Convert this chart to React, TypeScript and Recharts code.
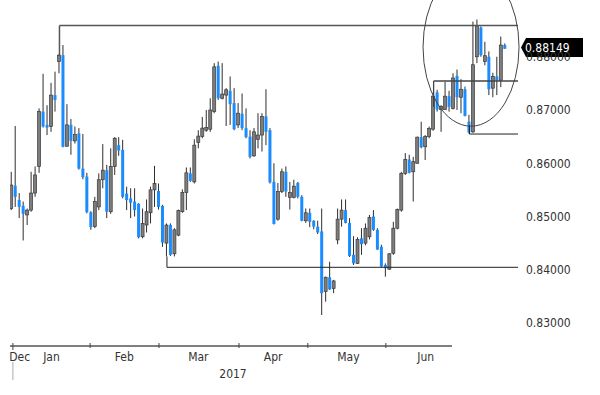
import React from 'react';
import { ComposedChart, Bar, XAxis, YAxis, ReferenceLine, ReferenceDot } from 'recharts';

// daily candles, Dec 2016 - Jun 2017
const opens = [
  0.8515, 0.8558, 0.8531, 0.8520, 0.8503, 0.8512, 0.8544, 0.8594, 0.8697, 0.8672,
  0.8669, 0.8728, 0.8791, 0.8803, 0.8632, 0.8672, 0.8642, 0.8656, 0.8590, 0.8575,
  0.8508, 0.8481, 0.8518, 0.8569, 0.8587, 0.8509, 0.8594, 0.8634, 0.8625, 0.8543,
  0.8534, 0.8528, 0.8524, 0.8462, 0.8484, 0.8507, 0.8550, 0.8548, 0.8520, 0.8450,
  0.8484, 0.8430, 0.8465, 0.8509, 0.8545, 0.8581, 0.8565, 0.8639, 0.8650, 0.8662,
  0.8664, 0.8697, 0.8783, 0.8722, 0.8728, 0.8736, 0.8713, 0.8672, 0.8693, 0.8666,
  0.8650, 0.8614, 0.8645, 0.8653, 0.8688, 0.8662, 0.8565, 0.8495, 0.8547, 0.8584,
  0.8536, 0.8536, 0.8563, 0.8537, 0.8492, 0.8507, 0.8492, 0.8481, 0.8472, 0.8359,
  0.8386, 0.8365, 0.8456, 0.8495, 0.8512, 0.8488, 0.8428, 0.8412, 0.8459, 0.8450,
  0.8462, 0.8500, 0.8475, 0.8443, 0.8409, 0.8401, 0.8431, 0.8478, 0.8512, 0.8581,
  0.8607, 0.8584, 0.8600, 0.8649, 0.8631, 0.8650, 0.8664, 0.8733, 0.8701, 0.8701,
  0.8726, 0.8703, 0.8764, 0.8724, 0.8739, 0.8678, 0.8659, 0.8800, 0.8855, 0.8791,
  0.8800, 0.8741, 0.8763, 0.8756, 0.8822,
];
const highs = [
  0.8584, 0.8670, 0.8544, 0.8528, 0.8515, 0.8584, 0.8594, 0.8703, 0.8768, 0.8709,
  0.8751, 0.8772, 0.8805, 0.8822, 0.8711, 0.8683, 0.8669, 0.8666, 0.8655, 0.8582,
  0.8510, 0.8537, 0.8581, 0.8636, 0.8597, 0.8628, 0.8649, 0.8649, 0.8644, 0.8556,
  0.8553, 0.8553, 0.8525, 0.8515, 0.8532, 0.8556, 0.8595, 0.8562, 0.8522, 0.8487,
  0.8487, 0.8478, 0.8513, 0.8551, 0.8592, 0.8592, 0.8645, 0.8662, 0.8687, 0.8700,
  0.8722, 0.8788, 0.8791, 0.8788, 0.8741, 0.8763, 0.8741, 0.8713, 0.8731, 0.8703,
  0.8662, 0.8666, 0.8694, 0.8694, 0.8739, 0.8666, 0.8600, 0.8563, 0.8590, 0.8594,
  0.8565, 0.8569, 0.8565, 0.8540, 0.8515, 0.8515, 0.8493, 0.8492, 0.8515, 0.8387,
  0.8415, 0.8381, 0.8515, 0.8532, 0.8532, 0.8497, 0.8463, 0.8461, 0.8478, 0.8487,
  0.8503, 0.8512, 0.8478, 0.8447, 0.8412, 0.8431, 0.8490, 0.8515, 0.8584, 0.8619,
  0.8616, 0.8612, 0.8650, 0.8678, 0.8653, 0.8669, 0.8733, 0.8738, 0.8709, 0.8753,
  0.8736, 0.8769, 0.8776, 0.8758, 0.8744, 0.8691, 0.8866, 0.8870, 0.8857, 0.8828,
  0.8810, 0.8770, 0.8800, 0.8838, 0.8825,
];
const lows = [
  0.8512, 0.8518, 0.8497, 0.8455, 0.8484, 0.8509, 0.8537, 0.8582, 0.8667, 0.8653,
  0.8659, 0.8697, 0.8769, 0.8630, 0.8631, 0.8616, 0.8637, 0.8588, 0.8570, 0.8506,
  0.8475, 0.8478, 0.8512, 0.8553, 0.8497, 0.8505, 0.8578, 0.8614, 0.8534, 0.8512,
  0.8497, 0.8500, 0.8459, 0.8459, 0.8470, 0.8487, 0.8518, 0.8513, 0.8443, 0.8425,
  0.8426, 0.8425, 0.8463, 0.8507, 0.8512, 0.8565, 0.8562, 0.8628, 0.8647, 0.8659,
  0.8659, 0.8694, 0.8719, 0.8720, 0.8670, 0.8672, 0.8662, 0.8666, 0.8662, 0.8647,
  0.8609, 0.8612, 0.8628, 0.8622, 0.8634, 0.8562, 0.8485, 0.8492, 0.8544, 0.8537,
  0.8513, 0.8534, 0.8534, 0.8491, 0.8488, 0.8480, 0.8476, 0.8467, 0.8315, 0.8340,
  0.8362, 0.8356, 0.8448, 0.8481, 0.8487, 0.8424, 0.8409, 0.8411, 0.8428, 0.8446,
  0.8457, 0.8473, 0.8437, 0.8405, 0.8387, 0.8400, 0.8428, 0.8476, 0.8509, 0.8578,
  0.8581, 0.8528, 0.8599, 0.8628, 0.8606, 0.8647, 0.8661, 0.8697, 0.8659, 0.8700,
  0.8697, 0.8701, 0.8700, 0.8694, 0.8688, 0.8656, 0.8657, 0.8788, 0.8800, 0.8784,
  0.8728, 0.8724, 0.8728, 0.8743, 0.8815,
];
const closes = [
  0.8559, 0.8537, 0.8518, 0.8505, 0.8512, 0.8544, 0.8578, 0.8697, 0.8669, 0.8667,
  0.8728, 0.8719, 0.8803, 0.8631, 0.8672, 0.8642, 0.8654, 0.8590, 0.8574, 0.8508,
  0.8480, 0.8528, 0.8569, 0.8587, 0.8509, 0.8594, 0.8647, 0.8624, 0.8537, 0.8531,
  0.8526, 0.8512, 0.8461, 0.8487, 0.8509, 0.8550, 0.8562, 0.8518, 0.8451, 0.8484,
  0.8428, 0.8475, 0.8511, 0.8545, 0.8582, 0.8567, 0.8634, 0.8651, 0.8666, 0.8667,
  0.8700, 0.8781, 0.8722, 0.8730, 0.8738, 0.8711, 0.8664, 0.8694, 0.8666, 0.8649,
  0.8612, 0.8659, 0.8653, 0.8688, 0.8659, 0.8564, 0.8486, 0.8547, 0.8584, 0.8547,
  0.8545, 0.8557, 0.8537, 0.8492, 0.8507, 0.8490, 0.8481, 0.8470, 0.8356, 0.8386,
  0.8363, 0.8379, 0.8495, 0.8512, 0.8488, 0.8426, 0.8412, 0.8457, 0.8448, 0.8478,
  0.8498, 0.8475, 0.8438, 0.8406, 0.8403, 0.8430, 0.8478, 0.8513, 0.8581, 0.8607,
  0.8582, 0.8603, 0.8649, 0.8630, 0.8650, 0.8665, 0.8726, 0.8701, 0.8707, 0.8726,
  0.8706, 0.8760, 0.8724, 0.8739, 0.8689, 0.8658, 0.8785, 0.8858, 0.8803, 0.8802,
  0.8739, 0.8763, 0.8755, 0.8822, 0.88149,
];

// month boundaries and label centres, in candle index units
const monthTicks = [0.3, 19.7, 37.0, 57.1, 74.4, 94.0];
const monthLabels = ['Dec', 'Jan', 'Feb', 'Mar', 'Apr', 'May', 'Jun'];
const monthLabelPos = [2.0, 10.0, 28.3, 46.9, 65.7, 84.6, 104.0];
const yearLabel = '2017';
const yearLabelPos = 55.6;
const priceTicks = [0.83, 0.84, 0.85, 0.86, 0.87, 0.88];
const lastPrice = 0.88149;

// hand-drawn levels
const janHigh = { at: 12, level: 0.88587, from: 0.8803 };
const febLow = { at: 39, level: 0.84046, from: 0.8425 };
const rangeTop = { at: 106, level: 0.87545, from: 0.8706 };
const rangeLow = { at: 115, level: 0.86549, from: 0.86718 };
const focus = { at: 115.4, level: 0.8818 };

const X_MIN = -0.43;
const X_MAX = 127.2;
const AXIS_END = 110.6;
const Y_MIN = 0.82568;
const Y_MAX = 0.89066;

const FONT = "'Liberation Sans Narrow', 'DejaVu Sans Condensed', 'Liberation Sans', sans-serif";

const data = opens.map((open, i) => ({
  i,
  open,
  high: highs[i],
  low: lows[i],
  close: closes[i],
}));

function Candle(props: any) {
  const { x, y, width, height, payload } = props;
  if (!payload || height == null) return null;
  const top = Math.min(y, y + height);
  const h = Math.abs(height);
  const { open, high, low, close } = payload;
  const range = high - low || 1e-9;
  const py = (p: number) => top + ((high - p) / range) * h;
  const cx = x + width / 2;
  const up = close >= open;
  const bodyTop = py(Math.max(open, close));
  const bodyH = Math.max(1, py(Math.min(open, close)) - bodyTop);
  return (
    <g>
      <line x1={cx} x2={cx} y1={top} y2={top + h} stroke="#2e2e2e" strokeWidth={1} />
      <rect
        x={cx - 1.5}
        y={bodyTop}
        width={3}
        height={bodyH}
        fill={up ? '#7d7d7d' : '#1a8cff'}
        stroke={up ? '#3a3a3a' : 'none'}
        strokeWidth={0.7}
      />
    </g>
  );
}

function AxisTick(props: any) {
  const { x, y, payload } = props;
  const v = payload.value;
  const li = monthLabelPos.indexOf(v);
  if (li >= 0) {
    return (
      <text x={x} y={y + 15} textAnchor="middle" fill="#333" fontSize={12} fontFamily={FONT}>
        {monthLabels[li]}
      </text>
    );
  }
  if (v === yearLabelPos) {
    return (
      <text x={x} y={y + 32} textAnchor="middle" fill="#333" fontSize={12} fontFamily={FONT}>
        {yearLabel}
      </text>
    );
  }
  if (v === monthTicks[0]) {
    return (
      <g>
        <line x1={x} x2={x} y1={y - 3} y2={y + 4} stroke="#444" />
        <line x1={x} x2={x} y1={y + 16} y2={y + 34} stroke="#aaa" />
      </g>
    );
  }
  return <line x1={x} x2={x} y1={y - 3} y2={y + 2} stroke="#444" />;
}

function PriceTag(props: any) {
  const { viewBox } = props;
  if (!viewBox) return null;
  const x = viewBox.x + viewBox.width;
  const y = viewBox.y - 1.3;
  return (
    <g>
      <path
        d={`M${x + 3},${y} L${x + 8},${y - 9.5} L${x + 65},${y - 9.5} L${x + 65},${y + 9.5} L${x + 8},${y + 9.5} Z`}
        fill="#000"
      />
      <text x={x + 7} y={y} dy="0.36em" fill="#fff" fontSize={12} fontFamily={FONT}>
        {lastPrice.toFixed(5)}
      </text>
    </g>
  );
}

function levelLines(l: { at: number; level: number; from: number }, stroke: string, w: number) {
  return [
    <ReferenceLine
      key={`h${l.at}`}
      segment={[{ x: l.at, y: l.level }, { x: X_MAX, y: l.level }]}
      stroke={stroke}
      strokeWidth={w}
      ifOverflow="visible"
    />,
    <ReferenceLine
      key={`v${l.at}`}
      segment={[{ x: l.at, y: l.level }, { x: l.at, y: l.from }]}
      stroke={stroke}
      strokeWidth={w}
      ifOverflow="visible"
    />,
  ];
}

export default function App() {
  return (
    <div style={{ position: 'absolute', left: 0, top: 0, width: 600, height: 395, background: '#fff' }}>
      <ComposedChart width={600} height={395} data={data} margin={{ top: 0, right: 0, bottom: 0, left: 10 }}>
        <XAxis
          dataKey="i"
          type="number"
          domain={[X_MIN, X_MAX]}
          allowDataOverflow
          ticks={[...monthTicks, ...monthLabelPos, yearLabelPos]}
          interval={0}
          tickSize={0}
          tickMargin={0}
          axisLine={false}
          tickLine={false}
          tick={<AxisTick />}
          height={49}
        />
        <YAxis
          orientation="right"
          domain={[Y_MIN, Y_MAX]}
          allowDataOverflow
          ticks={priceTicks}
          interval={0}
          width={82}
          axisLine={false}
          tickLine={false}
          tickFormatter={(v: number) => v.toFixed(5)}
          tick={{ fill: '#333', fontSize: 12, fontFamily: FONT }}
        />
        {levelLines(janHigh, '#555', 1.5)}
        {levelLines(febLow, '#222', 1)}
        {levelLines(rangeTop, '#444', 1.3)}
        {levelLines(rangeLow, '#222', 1)}
        <ReferenceLine
          segment={[{ x: X_MIN, y: Y_MIN }, { x: AXIS_END, y: Y_MIN }]}
          stroke="#555"
          strokeWidth={1.5}
          ifOverflow="visible"
        />
        <ReferenceDot
          x={focus.at}
          y={focus.level}
          r={1}
          ifOverflow="visible"
          shape={(p: any) => <ellipse cx={p.cx} cy={p.cy} rx={48} ry={79} fill="none" stroke="#444" strokeWidth={1} />}
        />
        <ReferenceLine y={lastPrice} stroke="none" ifOverflow="visible" label={<PriceTag />} />
        <Bar
          dataKey={(d: any) => [d.low, d.high]}
          barSize={3}
          shape={(p: any) => <Candle {...p} />}
          isAnimationActive={false}
        />
      </ComposedChart>
    </div>
  );
}
